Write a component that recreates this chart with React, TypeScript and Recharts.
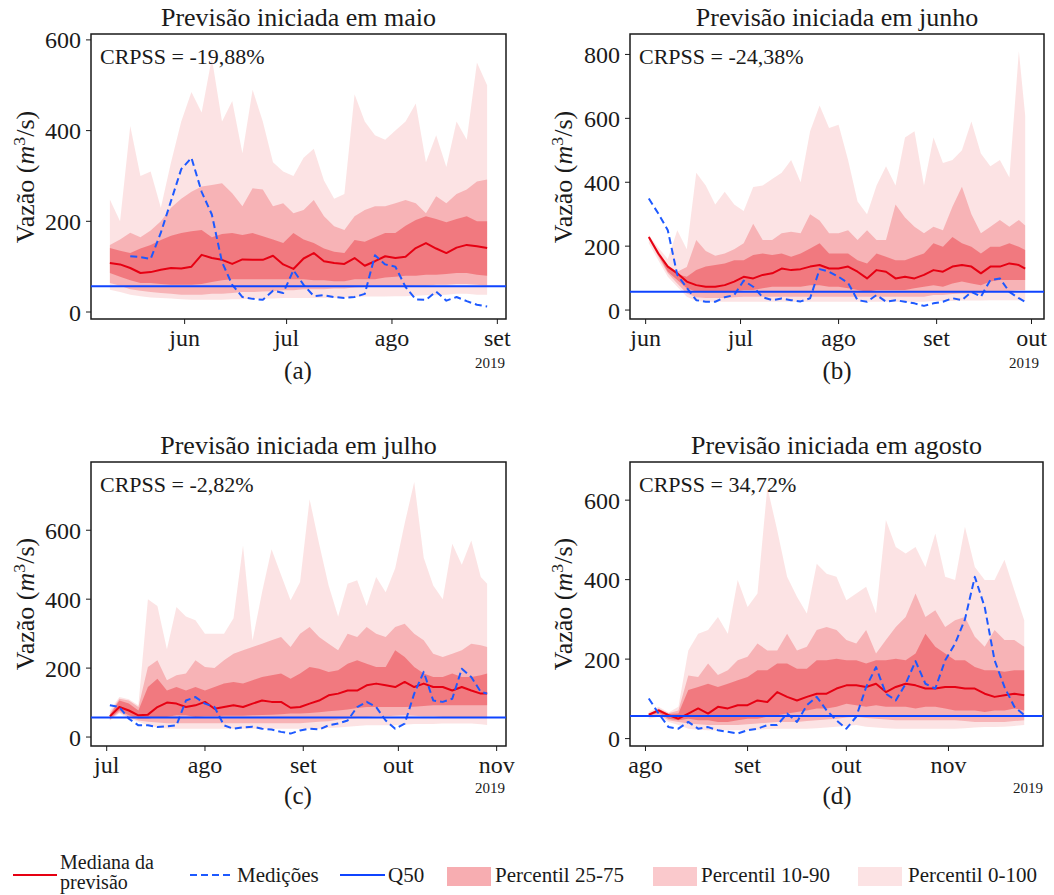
import React from "react";
import {
  ComposedChart,
  Area,
  Line,
  XAxis,
  YAxis,
  ReferenceLine,
  ReferenceArea,
} from "recharts";

const FONT = "'Liberation Serif', 'DejaVu Serif', serif";
const INK = "#1a1a1a";
const BAND = "#e6000c";
const MEDIAN_COLOR = "#e60012";
const OBS_COLOR = "#1d59ff";
const Q50_COLOR = "#0f44ff";
const X_H = 30;

// day of year (0 = 1 jan 2019) -> month label
const MONTH_DAYS = [151, 181, 212, 243, 273, 304];
const MONTH_NAMES = ["jun", "jul", "ago", "set", "out", "nov"];
const Q50 = 57;

// (a) previsão iniciada em maio
const daysA = [129, 132, 135, 138, 141, 144, 147, 150, 153, 156, 159, 162, 165, 168, 171, 174, 177, 180, 183, 186, 189, 192, 195, 198, 201, 204, 207, 210, 213, 216, 219, 222, 225, 228, 231, 234, 237, 240];
const up100A = [248, 200, 410, 300, 310, 230, 330, 420, 485, 440, 560, 420, 465, 350, 490, 420, 330, 310, 300, 340, 360, 290, 250, 260, 480, 420, 390, 380, 400, 420, 460, 330, 390, 320, 420, 380, 550, 500];
const up90A = [148, 160, 175, 165, 180, 200, 230, 250, 265, 277, 280, 284, 262, 233, 273, 270, 233, 240, 218, 225, 247, 211, 189, 181, 211, 225, 233, 233, 240, 247, 240, 218, 255, 240, 260, 270, 288, 292];
const up75A = [141, 135, 130, 140, 148, 159, 168, 174, 178, 181, 165, 172, 174, 170, 174, 167, 160, 152, 174, 160, 152, 140, 133, 130, 159, 155, 165, 174, 174, 190, 203, 211, 205, 198, 205, 211, 200, 200];
const medA = [108, 105, 97, 86, 88, 93, 97, 96, 100, 126, 119, 115, 106, 116, 115, 115, 124, 105, 95, 118, 130, 112, 108, 106, 119, 102, 112, 123, 119, 122, 141, 152, 140, 130, 142, 148, 145, 141];
const lo25A = [86, 78, 70, 64, 64, 62, 60, 60, 60, 62, 66, 70, 72, 72, 72, 72, 72, 72, 72, 72, 70, 70, 68, 68, 72, 72, 72, 76, 78, 80, 80, 82, 82, 84, 86, 86, 82, 80];
const lo10A = [64, 58, 50, 47, 44, 42, 40, 38, 38, 38, 40, 40, 42, 44, 44, 45, 46, 48, 48, 50, 50, 50, 52, 52, 54, 55, 56, 56, 56, 57, 58, 58, 60, 60, 62, 62, 60, 58];
const lo0A = [49, 44, 38, 35, 32, 31, 30, 28, 27, 27, 27, 27, 28, 28, 29, 30, 30, 31, 31, 31, 31, 31, 31, 32, 33, 34, 34, 34, 35, 35, 36, 37, 37, 38, 40, 40, 38, 38];
const obsA = [null, null, 123, 121, 117, 175, 245, 315, 340, 265, 215, 110, 60, 33, 29, 27, 47, 42, 92, 60, 35, 37, 33, 31, 33, 40, 125, 105, 100, 55, 28, 27, 45, 25, 33, 24, 16, 12];

// (b) previsão iniciada em junho
const daysB = [152, 155, 158, 161, 164, 167, 170, 173, 176, 179, 182, 185, 188, 191, 194, 197, 200, 203, 206, 209, 212, 215, 218, 221, 224, 227, 230, 233, 236, 239, 242, 245, 248, 251, 254, 257, 260, 263, 266, 269, 271];
const up100B = [235, 195, 160, 250, 190, 430, 390, 330, 370, 330, 310, 385, 390, 410, 430, 470, 400, 560, 640, 570, 580, 470, 340, 300, 390, 450, 390, 540, 560, 390, 540, 460, 470, 500, 590, 490, 450, 470, 415, 810, 610];
const up90B = [232, 185, 140, 120, 135, 219, 185, 170, 177, 190, 209, 270, 219, 219, 240, 245, 240, 300, 280, 240, 240, 250, 219, 250, 219, 219, 330, 290, 261, 240, 261, 250, 323, 386, 300, 240, 261, 282, 261, 282, 265];
const up75B = [230, 180, 138, 112, 104, 125, 136, 141, 146, 156, 156, 172, 177, 172, 177, 167, 177, 193, 209, 177, 177, 177, 156, 146, 177, 167, 156, 156, 167, 177, 209, 198, 229, 209, 198, 177, 198, 198, 209, 198, 188];
const medB = [229, 177, 136, 115, 89, 78, 73, 73, 78, 89, 104, 99, 110, 115, 130, 125, 128, 136, 141, 130, 130, 136, 120, 99, 125, 120, 99, 104, 99, 110, 125, 120, 136, 141, 136, 115, 136, 136, 146, 141, 130];
const lo25B = [225, 172, 120, 94, 68, 57, 55, 55, 55, 57, 63, 63, 68, 73, 73, 73, 73, 78, 78, 73, 73, 68, 63, 57, 63, 63, 63, 63, 68, 73, 78, 73, 83, 89, 83, 78, 89, 94, 94, 94, 94];
const lo10B = [222, 167, 115, 83, 52, 40, 38, 38, 38, 40, 42, 42, 42, 42, 42, 42, 42, 42, 42, 42, 42, 42, 42, 42, 42, 42, 42, 42, 42, 42, 47, 47, 50, 52, 52, 52, 57, 57, 60, 63, 63];
const lo0B = [209, 156, 104, 73, 42, 28, 26, 26, 26, 26, 26, 26, 26, 26, 26, 26, 26, 26, 26, 26, 26, 26, 26, 26, 26, 26, 26, 26, 26, 26, 28, 28, 28, 30, 30, 30, 31, 31, 31, 31, 28];
const obsB = [349, 302, 250, 110, 70, 31, 26, 26, 40, 47, 92, 73, 40, 31, 36, 31, 27, 37, 128, 120, 104, 85, 31, 26, 47, 26, 31, 26, 21, 13, 21, 26, 37, 31, 57, 42, 94, 99, 57, 37, 26];

// (c) previsão iniciada em julho
const daysC = [182, 185, 188, 191, 194, 197, 200, 203, 206, 209, 212, 215, 218, 221, 224, 227, 230, 233, 236, 239, 242, 245, 248, 251, 254, 257, 260, 263, 266, 269, 272, 275, 278, 281, 284, 287, 290, 293, 296, 299, 301];
const up100C = [77, 116, 110, 92, 400, 380, 255, 377, 350, 339, 300, 300, 300, 345, 556, 280, 420, 545, 470, 397, 450, 690, 561, 440, 350, 445, 455, 380, 464, 420, 490, 620, 740, 520, 440, 400, 561, 500, 570, 464, 445];
const up90C = [68, 111, 106, 87, 203, 223, 165, 179, 184, 223, 203, 200, 223, 242, 252, 261, 271, 281, 290, 261, 300, 319, 290, 271, 252, 300, 290, 319, 300, 290, 319, 329, 300, 281, 242, 232, 242, 252, 271, 266, 261];
const up75C = [63, 106, 97, 77, 145, 169, 135, 145, 135, 145, 135, 145, 155, 160, 155, 165, 174, 179, 184, 169, 184, 203, 198, 189, 194, 213, 223, 213, 203, 203, 252, 232, 203, 184, 174, 174, 184, 174, 174, 179, 184];
const medC = [60, 87, 77, 63, 65, 87, 100, 97, 87, 92, 102, 82, 87, 92, 87, 97, 106, 102, 102, 85, 87, 97, 106, 121, 126, 135, 135, 150, 155, 150, 145, 160, 145, 155, 145, 145, 135, 145, 135, 126, 126];
const lo25C = [53, 77, 63, 53, 53, 58, 58, 63, 63, 58, 60, 60, 62, 62, 62, 63, 64, 65, 66, 68, 68, 70, 72, 75, 77, 80, 84, 87, 87, 87, 87, 87, 88, 90, 92, 92, 92, 92, 92, 92, 92];
const lo10C = [50, 72, 58, 48, 44, 42, 40, 40, 40, 40, 40, 40, 40, 40, 40, 40, 40, 40, 40, 40, 40, 42, 44, 46, 50, 53, 55, 58, 60, 60, 62, 63, 62, 60, 60, 58, 58, 58, 58, 58, 58];
const lo0C = [48, 68, 53, 44, 34, 28, 25, 24, 24, 24, 24, 24, 24, 24, 24, 24, 24, 24, 24, 24, 24, 24, 24, 26, 28, 30, 32, 34, 34, 34, 34, 36, 38, 38, 38, 39, 39, 39, 39, 37, 35];
const obsC = [92, 87, 53, 34, 34, 29, 31, 34, 106, 116, 97, 87, 34, 24, 28, 30, 24, 22, 15, 10, 19, 24, 22, 34, 39, 48, 87, 102, 87, 48, 24, 39, 126, 189, 106, 102, 111, 198, 174, 131, 126];

// (d) previsão iniciada em agosto
const daysD = [213, 216, 219, 222, 225, 228, 231, 234, 237, 240, 243, 246, 249, 252, 255, 258, 261, 264, 267, 270, 273, 276, 279, 282, 285, 288, 291, 294, 297, 300, 303, 306, 309, 312, 315, 318, 321, 324, 327];
const up100D = [67, 80, 66, 80, 222, 264, 273, 306, 264, 399, 331, 365, 633, 524, 407, 357, 315, 440, 415, 407, 348, 365, 382, 315, 550, 482, 466, 482, 432, 516, 407, 399, 533, 432, 399, 399, 450, 373, 298];
const up90D = [63, 76, 64, 71, 159, 155, 189, 160, 172, 197, 206, 239, 222, 222, 264, 222, 231, 273, 281, 273, 248, 239, 273, 214, 248, 281, 306, 365, 306, 323, 281, 298, 306, 256, 231, 273, 248, 248, 231];
const up75D = [61, 74, 62, 63, 122, 130, 138, 130, 138, 147, 155, 172, 172, 189, 189, 176, 176, 197, 197, 201, 197, 197, 189, 197, 197, 201, 197, 214, 264, 231, 214, 197, 197, 180, 172, 172, 168, 172, 172];
const medD = [60, 71, 59, 50, 63, 76, 63, 80, 76, 84, 84, 96, 92, 117, 105, 96, 105, 113, 113, 126, 134, 134, 130, 138, 117, 130, 138, 134, 126, 126, 130, 130, 126, 126, 113, 105, 109, 113, 109];
const lo25D = [58, 65, 50, 46, 50, 46, 46, 42, 42, 46, 50, 50, 55, 59, 63, 67, 71, 76, 76, 80, 88, 84, 80, 84, 80, 80, 80, 76, 80, 80, 76, 71, 71, 71, 67, 71, 71, 76, 71];
const lo10D = [55, 60, 46, 42, 38, 36, 34, 34, 34, 34, 36, 38, 40, 42, 42, 42, 44, 46, 48, 50, 53, 55, 52, 50, 48, 46, 46, 46, 46, 46, 46, 46, 44, 42, 42, 42, 42, 44, 46];
const lo0D = [50, 55, 42, 34, 25, 22, 21, 21, 21, 21, 21, 22, 24, 25, 25, 25, 25, 26, 28, 30, 32, 34, 30, 28, 26, 25, 25, 25, 25, 25, 25, 25, 26, 28, 29, 29, 30, 32, 34];
const obsD = [101, 63, 29, 25, 42, 25, 29, 21, 17, 13, 21, 25, 34, 34, 63, 42, 84, 105, 71, 46, 25, 55, 130, 180, 113, 96, 138, 195, 138, 126, 197, 239, 300, 407, 331, 197, 130, 80, 59];

type Box = { left: number; top: number; width: number; height: number };
type Frame = { left: number; top: number; right: number; bottom: number };

const panels = [
  {
    key: "a", title: "Previsão iniciada em maio", crpss: "CRPSS = -19,88%",
    days: daysA, up100: up100A, up90: up90A, up75: up75A, med: medA, lo25: lo25A, lo10: lo10A, lo0: lo0A, obs: obsA,
    xTicks: [151, 181, 212, 243], yTicks: [0, 200, 400, 600],
    xDomain: [123.45, 245.55], yDomain: [-15.4, 613],
    box: { left: 0, top: 0, width: 520, height: 400 },
    frame: { left: 91, top: 34, right: 506, bottom: 319 },
    year: { x: 490, y: 363 }, sub: { x: 298, y: 370 }, ylab: { x: 26, y: 177 },
  },
  {
    key: "b", title: "Previsão iniciada em junho", crpss: "CRPSS = -24,38%",
    days: daysB, up100: up100B, up90: up90B, up75: up75B, med: medB, lo25: lo25B, lo10: lo10B, lo0: lo0B, obs: obsB,
    xTicks: [151, 181, 212, 243, 273], yTicks: [0, 200, 400, 600, 800],
    xDomain: [146.05, 276.95], yDomain: [-28, 864],
    box: { left: 540, top: 0, width: 514, height: 400 },
    frame: { left: 630, top: 34, right: 1044, bottom: 319 },
    year: { x: 1024, y: 363 }, sub: { x: 837, y: 370 }, ylab: { x: 564, y: 177 },
  },
  {
    key: "c", title: "Previsão iniciada em julho", crpss: "CRPSS = -2,82%",
    days: daysC, up100: up100C, up90: up90C, up75: up75C, med: medC, lo25: lo25C, lo10: lo10C, lo0: lo0C, obs: obsC,
    xTicks: [181, 212, 243, 273, 304], yTicks: [0, 200, 400, 600],
    xDomain: [176.05, 306.95], yDomain: [-26, 798],
    box: { left: 0, top: 420, width: 520, height: 400 },
    frame: { left: 91, top: 462, right: 506, bottom: 746 },
    year: { x: 490, y: 788 }, sub: { x: 298, y: 795 }, ylab: { x: 26, y: 604 },
  },
  {
    key: "d", title: "Previsão iniciada em agosto", crpss: "CRPSS = 34,72%",
    days: daysD, up100: up100D, up90: up90D, up75: up75D, med: medD, lo25: lo25D, lo10: lo10D, lo0: lo0D, obs: obsD,
    xTicks: [212, 243, 273, 304], yTicks: [0, 200, 400, 600],
    xDomain: [207.3, 332.7], yDomain: [-18.6, 696],
    box: { left: 540, top: 420, width: 514, height: 400 },
    frame: { left: 630, top: 462, right: 1043, bottom: 746 },
    year: { x: 1028, y: 788 }, sub: { x: 837, y: 795 }, ylab: { x: 564, y: 604 },
  },
];

type Panel = (typeof panels)[number];

function MonthTick(props: any) {
  const { x, y, payload } = props;
  const label = MONTH_NAMES[MONTH_DAYS.indexOf(payload.value)];
  return (
    <text x={x} y={y} dy={20} textAnchor="middle" fontFamily={FONT} fontSize={24} fill={INK}>
      {label}
    </text>
  );
}

const abs = (x: number, y: number, extra: React.CSSProperties = {}): React.CSSProperties => ({
  position: "absolute",
  left: x,
  top: y,
  whiteSpace: "nowrap",
  fontFamily: FONT,
  color: INK,
  lineHeight: 1,
  ...extra,
});

function FanChart({ p }: { p: Panel }) {
  const rows = p.days.map((day, i) => ({
    day,
    b100: [p.lo0[i], p.up100[i]],
    b90: [p.lo10[i], p.up90[i]],
    b75: [p.lo25[i], p.up75[i]],
    med: p.med[i],
    obs: p.obs[i],
  }));
  const box: Box = p.box;
  const frame: Frame = p.frame;
  const cx = (frame.left + frame.right) / 2;

  return (
    <>
      <div style={{ position: "absolute", left: box.left, top: box.top }}>
        <ComposedChart
          width={box.width}
          height={box.height}
          data={rows}
          margin={{
            top: frame.top - box.top,
            right: box.left + box.width - frame.right,
            bottom: box.top + box.height - frame.bottom - X_H,
            left: 0,
          }}
        >
          <XAxis
            dataKey="day"
            type="number"
            domain={p.xDomain as [number, number]}
            ticks={p.xTicks}
            interval={0}
            allowDataOverflow
            height={X_H}
            axisLine={false}
            tickSize={5}
            stroke={INK}
            tick={(props: any) => <MonthTick {...props} />}
          />
          <YAxis
            type="number"
            domain={p.yDomain as [number, number]}
            ticks={p.yTicks}
            interval={0}
            allowDataOverflow
            width={frame.left - box.left}
            axisLine={false}
            tickSize={5}
            tickMargin={5}
            stroke={INK}
            tick={{ fontFamily: FONT, fontSize: 24, fill: INK }}
          />
          <Area dataKey="b100" type="linear" stroke="none" fill={BAND} fillOpacity={0.11} dot={false} activeDot={false} isAnimationActive={false} />
          <Area dataKey="b90" type="linear" stroke="none" fill={BAND} fillOpacity={0.21} dot={false} activeDot={false} isAnimationActive={false} />
          <Area dataKey="b75" type="linear" stroke="none" fill={BAND} fillOpacity={0.32} dot={false} activeDot={false} isAnimationActive={false} />
          <Line dataKey="med" type="linear" stroke={MEDIAN_COLOR} strokeWidth={2} dot={false} activeDot={false} strokeLinejoin="round" isAnimationActive={false} />
          <Line dataKey="obs" type="linear" stroke={OBS_COLOR} strokeWidth={2} strokeDasharray="7 4" dot={false} activeDot={false} strokeLinejoin="round" isAnimationActive={false} />
          <ReferenceLine y={Q50} stroke={Q50_COLOR} strokeWidth={2} />
          <ReferenceArea
            x1={p.xDomain[0]}
            x2={p.xDomain[1]}
            y1={p.yDomain[0]}
            y2={p.yDomain[1]}
            fill="none"
            fillOpacity={0}
            stroke={INK}
            strokeWidth={1.5}
          />
        </ComposedChart>
      </div>
      <div style={abs(cx, frame.top - 16, { fontSize: 26, transform: "translate(-50%, -50%)" })}>{p.title}</div>
      <div style={abs(frame.left + 9, frame.top + 23, { fontSize: 22, transform: "translateY(-50%)" })}>{p.crpss}</div>
      <div style={abs(p.sub.x, p.sub.y, { fontSize: 25, transform: "translate(-50%, -50%)" })}>({p.key})</div>
      <div style={abs(p.year.x, p.year.y, { fontSize: 15, transform: "translate(-50%, -50%)" })}>2019</div>
      <div style={abs(p.ylab.x, p.ylab.y, { fontSize: 26, transform: "translate(-50%, -50%) rotate(-90deg)" })}>
        Vazão (<i>m</i>
        <sup style={{ fontSize: "0.68em", verticalAlign: "0.5em", lineHeight: 0 }}>3</sup>/s)
      </div>
    </>
  );
}

function LegendRow() {
  const lineY = 875;
  const txt = (x: number, label: React.ReactNode) => (
    <div style={abs(x, lineY, { fontSize: 21, transform: "translateY(-50%)" })}>{label}</div>
  );
  const patch = (x: number, opacity: number) => (
    <div style={{ position: "absolute", left: x, top: 867, width: 44, height: 19, background: BAND, opacity }} />
  );
  return (
    <>
      <svg style={{ position: "absolute", left: 0, top: 860 }} width={400} height={30}>
        <line x1={13} x2={57} y1={15} y2={15} stroke={MEDIAN_COLOR} strokeWidth={2} />
        <line x1={190} x2={230} y1={15} y2={15} stroke={OBS_COLOR} strokeWidth={2} strokeDasharray="7 4" />
        <line x1={340} x2={385} y1={15} y2={15} stroke={Q50_COLOR} strokeWidth={2} />
      </svg>
      <div style={abs(60, 852, { fontSize: 20, lineHeight: "20px" })}>
        Mediana da
        <br />
        previsão
      </div>
      {txt(237, "Medições")}
      {txt(388, "Q50")}
      {patch(447, 0.32)}
      {txt(495, "Percentil 25-75")}
      {patch(653, 0.21)}
      {txt(701, "Percentil 10-90")}
      {patch(858, 0.11)}
      {txt(908, "Percentil 0-100")}
    </>
  );
}

export default function App() {
  return (
    <div style={{ position: "absolute", left: 0, top: 0, width: 1054, height: 895, background: "#fff", overflow: "hidden" }}>
      {panels.map((p) => (
        <FanChart key={p.key} p={p} />
      ))}
      <LegendRow />
    </div>
  );
}
